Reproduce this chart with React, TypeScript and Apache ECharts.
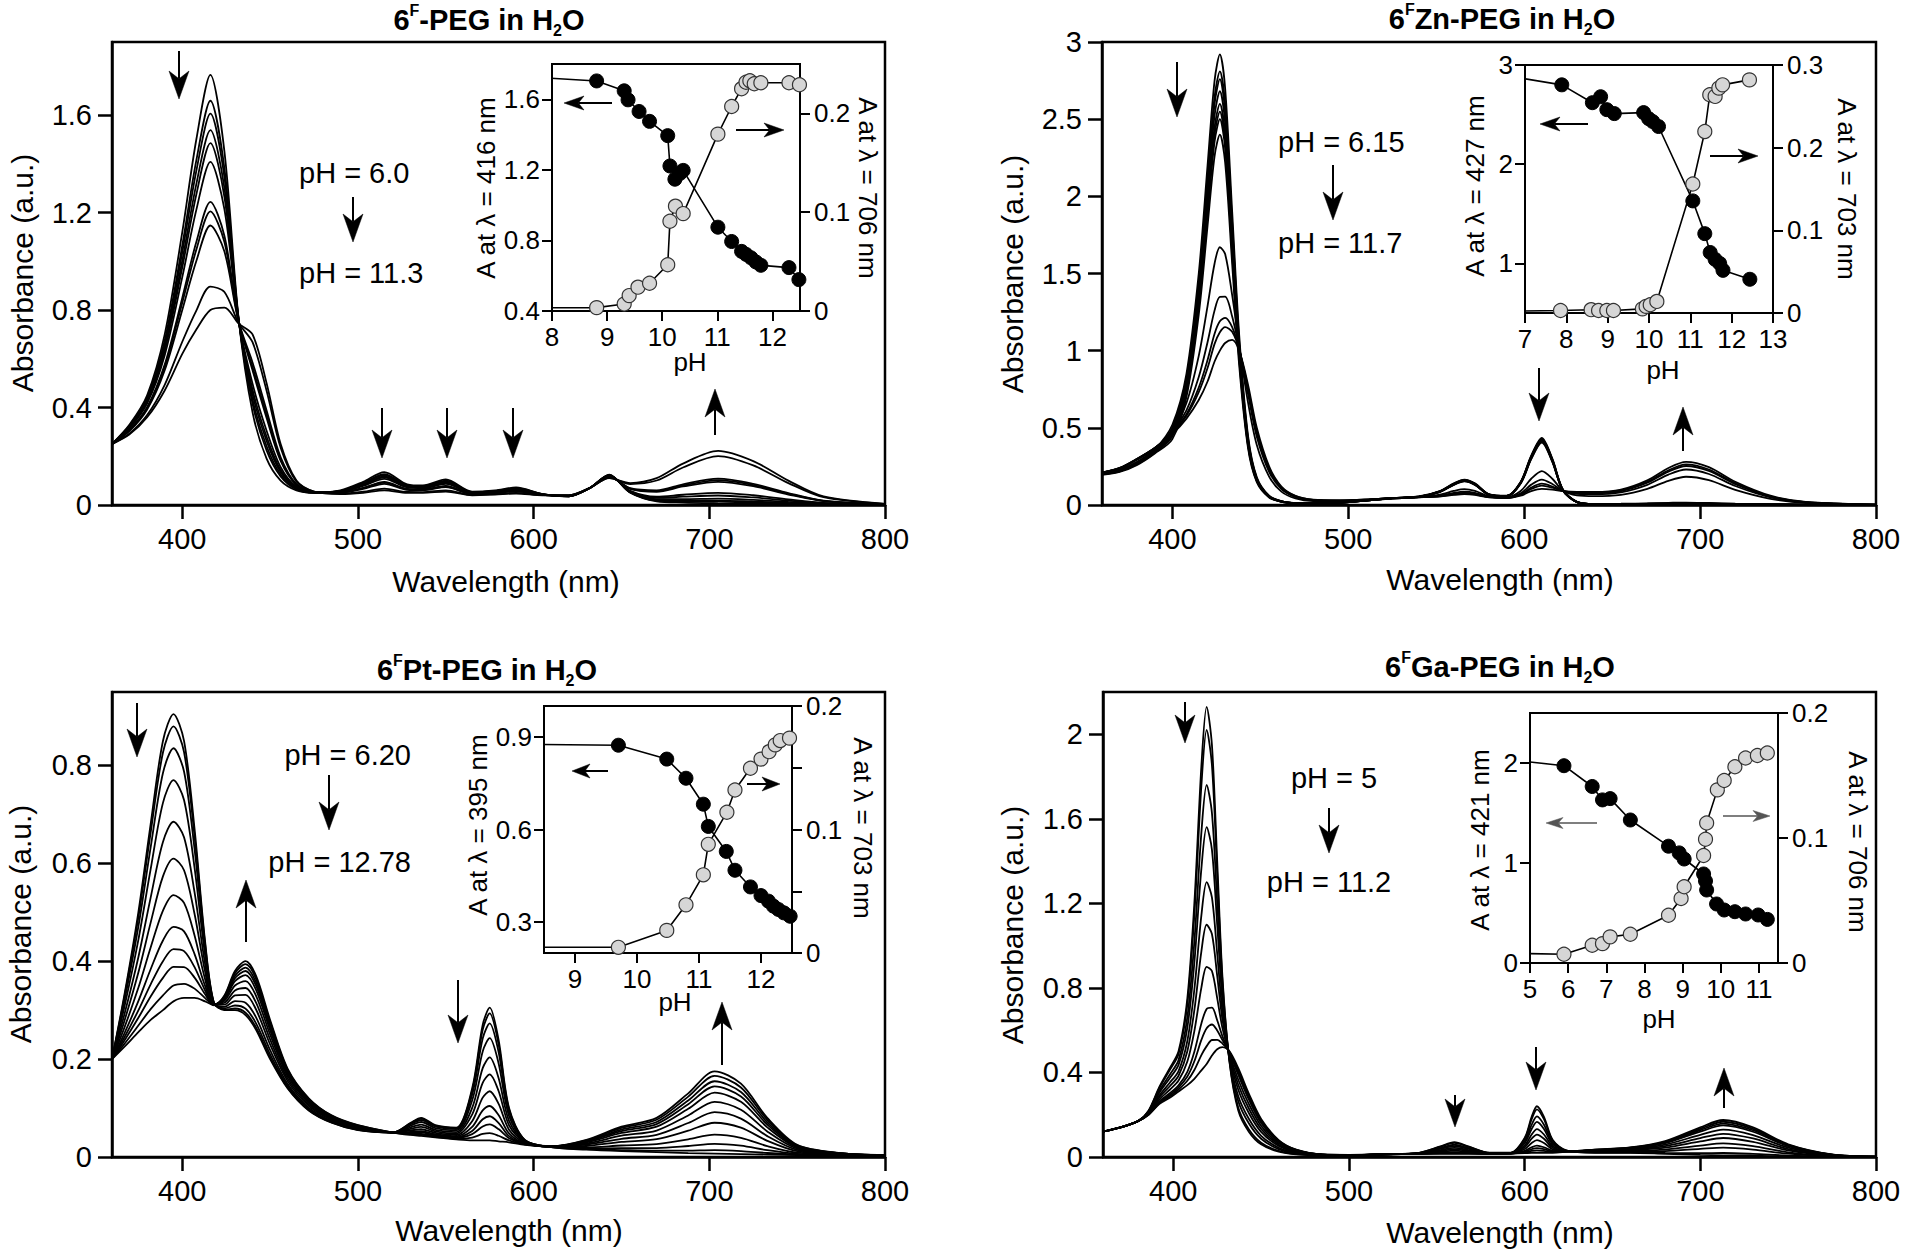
import React, { useEffect, useRef } from "react";
import * as echarts from "echarts";

const FONT = '"Liberation Sans", Arial, Helvetica, sans-serif';

// ---------------- Panel 1 : 6F-PEG ----------------
const W1 = [360,370,380,390,400,408,416,424,432,440,448,456,465,475,490,503,515,528,537,550,565,578,590,605,620,632,643,655,670,685,705,725,745,765,800];
const P1_S01 = [0.25,0.33,0.45,0.70,1.12,1.50,1.765,1.45,0.77,0.38,0.19,0.10,0.06,0.05,0.06,0.095,0.135,0.085,0.08,0.105,0.055,0.06,0.072,0.045,0.035,0.07,0.125,0.05,0.015,0.01,0.007,0.005,0.004,0.003,0.001];
const P1_S02 = [0.25,0.326,0.440,0.675,1.065,1.414,1.659,1.380,0.767,0.415,0.224,0.117,0.064,0.05,0.058,0.090,0.127,0.081,0.077,0.100,0.053,0.058,0.069,0.045,0.035,0.07,0.123,0.051,0.018,0.015,0.0135,0.010,0.007,0.004,0.001];
const P1_S03 = [0.25,0.323,0.435,0.662,1.037,1.371,1.606,1.344,0.766,0.433,0.241,0.125,0.067,0.051,0.0575,0.088,0.123,0.079,0.075,0.097,0.0525,0.057,0.068,0.044,0.036,0.07,0.1225,0.052,0.020,0.018,0.018,0.014,0.009,0.005,0.001];
const P1_S04 = [0.25,0.321,0.429,0.646,1.0025,1.317,1.538,1.300,0.764,0.455,0.263,0.135,0.069,0.051,0.0565,0.084,0.117,0.077,0.073,0.093,0.0515,0.056,0.066,0.044,0.036,0.07,0.1215,0.054,0.024,0.024,0.026,0.021,0.013,0.006,0.001];
const P1_S05 = [0.25,0.318,0.424,0.633,0.975,1.274,1.485,1.264,0.763,0.473,0.280,0.1435,0.072,0.0515,0.0556,0.082,0.113,0.075,0.071,0.0905,0.0506,0.055,0.065,0.0435,0.0365,0.07,0.1206,0.056,0.029,0.034,0.039,0.031,0.018,0.008,0.0016];
const P1_S06 = [0.25,0.315,0.417,0.615,0.935,1.211,1.408,1.213,0.761,0.498,0.305,0.1555,0.075,0.052,0.0544,0.078,0.107,0.072,0.069,0.0865,0.0494,0.0537,0.0627,0.043,0.037,0.07,0.1194,0.058,0.034,0.042,0.050,0.040,0.023,0.009,0.0018];
const P1_S07 = [0.25,0.308,0.401,0.576,0.85,1.079,1.244,1.104,0.7565,0.553,0.357,0.181,0.082,0.0527,0.052,0.0707,0.0945,0.066,0.0638,0.078,0.047,0.0508,0.0585,0.0423,0.0377,0.07,0.117,0.066,0.054,0.076,0.095,0.077,0.043,0.016,0.0026];
const P1_S08 = [0.25,0.307,0.398,0.567,0.83,1.048,1.205,1.079,0.7555,0.566,0.370,0.187,0.083,0.053,0.0513,0.069,0.0915,0.0647,0.0626,0.076,0.0463,0.050,0.0575,0.0421,0.0379,0.07,0.1163,0.0676,0.057,0.080,0.102,0.082,0.046,0.017,0.0028];
const P1_S09 = [0.25,0.304,0.392,0.553,0.80,1.001,1.147,1.040,0.754,0.585,0.388,0.196,0.0856,0.0532,0.0504,0.066,0.087,0.0626,0.0608,0.073,0.0454,0.049,0.056,0.0418,0.0382,0.07,0.1154,0.069,0.060,0.085,0.108,0.087,0.049,0.018,0.0029];
const P1_S10 = [0.25,0.294,0.369,0.493,0.67,0.798,0.8965,0.874,0.7475,0.668,0.469,0.235,0.096,0.0545,0.0465,0.0545,0.0675,0.0535,0.053,0.06,0.0415,0.0447,0.0495,0.0405,0.0395,0.07,0.1115,0.086,0.1005,0.154,0.2005,0.1625,0.090,0.032,0.0046];
const P1_S11 = [0.25,0.29,0.36,0.47,0.62,0.72,0.80,0.81,0.745,0.70,0.50,0.25,0.10,0.055,0.045,0.05,0.06,0.05,0.05,0.055,0.04,0.043,0.047,0.04,0.04,0.07,0.11,0.09,0.11,0.17,0.222,0.18,0.10,0.035,0.005];
const P1_CURVES = [P1_S01,P1_S02,P1_S03,P1_S04,P1_S05,P1_S06,P1_S07,P1_S08,P1_S09,P1_S10,P1_S11];

// ---------------- Panel 2 : 6FZn-PEG ----------------
const W2 = [360,370,380,390,400,408,415,420,424,427,430,434,438,443,448,455,462,470,480,495,510,525,540,552,560,566,572,580,590,598,604,610,616,622,630,640,655,670,682,692,705,720,740,760,800];
const P2_S01 = [0.21,0.23,0.28,0.36,0.52,0.85,1.50,2.20,2.75,2.92,2.70,1.90,1.10,0.45,0.18,0.06,0.025,0.012,0.01,0.015,0.03,0.045,0.055,0.09,0.14,0.165,0.14,0.07,0.06,0.15,0.32,0.435,0.30,0.10,0.02,0.005,0.003,0.003,0.003,0.003,0.003,0.002,0.002,0.001,0];
const P2_S02 = [0.207,0.227,0.276,0.355,0.50,0.818,1.443,2.116,2.646,2.81,2.597,1.828,1.058,0.433,0.173,0.058,0.024,0.012,0.01,0.015,0.03,0.044,0.054,0.089,0.138,0.1625,0.138,0.069,0.059,0.148,0.315,0.428,0.296,0.0985,0.02,0.005,0.003,0.003,0.003,0.003,0.003,0.002,0.002,0.001,0];
const P2_S03 = [0.205,0.225,0.274,0.352,0.491,0.803,1.418,2.079,2.599,2.759,2.552,1.796,1.040,0.425,0.170,0.057,0.024,0.012,0.01,0.015,0.029,0.044,0.054,0.088,0.137,0.161,0.137,0.068,0.059,0.147,0.313,0.425,0.293,0.098,0.02,0.005,0.004,0.004,0.004,0.004,0.004,0.003,0.002,0.001,0];
const P2_S04 = [0.203,0.222,0.271,0.348,0.477,0.780,1.377,2.020,2.525,2.681,2.479,1.744,1.010,0.413,0.165,0.055,0.023,0.012,0.01,0.0145,0.029,0.0435,0.053,0.087,0.135,0.1596,0.135,0.068,0.058,0.145,0.309,0.421,0.290,0.097,0.019,0.005,0.004,0.005,0.005,0.005,0.005,0.004,0.003,0.001,0];
const P2_S05 = [0.201,0.22,0.268,0.344,0.463,0.757,1.335,1.958,2.448,2.599,2.403,1.691,0.979,0.40,0.160,0.053,0.022,0.0115,0.0096,0.0143,0.0287,0.043,0.0526,0.086,0.134,0.158,0.134,0.067,0.057,0.143,0.306,0.416,0.287,0.096,0.019,0.005,0.005,0.006,0.007,0.007,0.006,0.005,0.003,0.001,0];
const P2_S06 = [0.199,0.218,0.266,0.342,0.454,0.742,1.31,1.921,2.401,2.549,2.357,1.659,0.960,0.393,0.157,0.052,0.022,0.0114,0.0095,0.0142,0.0285,0.0427,0.052,0.085,0.133,0.1566,0.133,0.066,0.057,0.142,0.304,0.413,0.285,0.095,0.019,0.006,0.006,0.008,0.009,0.010,0.008,0.006,0.004,0.002,0];
const P2_S07 = [0.198,0.217,0.264,0.339,0.445,0.728,1.284,1.883,2.354,2.50,2.311,1.626,0.942,0.385,0.154,0.051,0.021,0.0113,0.0094,0.0141,0.0283,0.0424,0.052,0.085,0.132,0.155,0.132,0.066,0.0565,0.141,0.301,0.41,0.283,0.094,0.019,0.006,0.007,0.009,0.011,0.012,0.010,0.007,0.004,0.002,0];
const P2_S08 = [0.195,0.214,0.26,0.334,0.427,0.699,1.233,1.808,2.261,2.40,2.219,1.562,0.904,0.37,0.148,0.049,0.021,0.011,0.0093,0.014,0.028,0.042,0.051,0.084,0.130,0.153,0.130,0.065,0.056,0.139,0.297,0.404,0.279,0.093,0.0186,0.007,0.008,0.011,0.014,0.016,0.013,0.009,0.005,0.002,0];
const P2_S09 = [0.21,0.2365,0.293,0.3665,0.481,0.661,0.966,1.289,1.565,1.67,1.626,1.36,1.035,0.665,0.388,0.184,0.087,0.043,0.026,0.025,0.033,0.045,0.052,0.067,0.091,0.103,0.091,0.057,0.050,0.091,0.17,0.22,0.17,0.0935,0.062,0.057,0.066,0.105,0.157,0.183,0.161,0.098,0.040,0.013,0.002];
const P2_S10 = [0.21,0.238,0.296,0.368,0.471,0.613,0.829,1.055,1.261,1.349,1.35,1.221,1.018,0.72,0.442,0.215,0.103,0.051,0.0305,0.027,0.034,0.045,0.051,0.061,0.079,0.087,0.079,0.054,0.048,0.076,0.132,0.165,0.136,0.092,0.073,0.07,0.082,0.131,0.197,0.23,0.201,0.123,0.0495,0.0165,0.0025];
const P2_S11 = [0.21,0.239,0.298,0.369,0.466,0.589,0.761,0.939,1.11,1.19,1.213,1.152,1.01,0.747,0.468,0.231,0.111,0.055,0.0325,0.0285,0.0345,0.045,0.0505,0.0585,0.0724,0.079,0.0724,0.052,0.0465,0.069,0.113,0.138,0.12,0.091,0.0786,0.077,0.0904,0.1445,0.2165,0.2526,0.2211,0.1353,0.0543,0.018,0.0027];
const P2_S12 = [0.21,0.239,0.299,0.369,0.464,0.578,0.731,0.8875,1.044,1.12,1.153,1.122,1.006,0.759,0.48,0.238,0.114,0.057,0.0334,0.029,0.0347,0.045,0.0503,0.0572,0.0697,0.076,0.0697,0.051,0.046,0.0656,0.104,0.126,0.1125,0.0906,0.081,0.08,0.094,0.15,0.225,0.263,0.230,0.141,0.056,0.0188,0.0028];
const P2_S13 = [0.21,0.24,0.30,0.37,0.46,0.56,0.68,0.80,0.93,1.00,1.05,1.07,1.00,0.78,0.50,0.25,0.12,0.06,0.035,0.03,0.035,0.045,0.05,0.055,0.065,0.07,0.065,0.05,0.045,0.06,0.09,0.105,0.10,0.09,0.085,0.085,0.10,0.16,0.24,0.28,0.245,0.15,0.06,0.02,0.003];
const P2_CURVES = [P2_S01,P2_S02,P2_S03,P2_S04,P2_S05,P2_S06,P2_S07,P2_S08,P2_S09,P2_S10,P2_S11,P2_S12,P2_S13];

// ---------------- Panel 3 : 6FPt-PEG ----------------
const W3 = [360,367,375,382,389,395,401,407,413,418,424,430,436,442,450,460,472,485,500,520,530,536,544,556,565,571,575,580,586,595,610,630,650,670,688,703,718,733,750,775,800];
const P3_S01 = [0.20,0.33,0.50,0.68,0.85,0.905,0.85,0.67,0.44,0.315,0.30,0.30,0.29,0.26,0.20,0.14,0.095,0.07,0.055,0.05,0.07,0.08,0.065,0.06,0.14,0.27,0.305,0.24,0.10,0.035,0.02,0.015,0.012,0.01,0.008,0.007,0.006,0.005,0.004,0.003,0.002];
const P3_S02 = [0.20,0.3255,0.4895,0.6628,0.8263,0.8798,0.8274,0.6552,0.4348,0.3148,0.3013,0.3034,0.2947,0.2647,0.2034,0.1417,0.0961,0.0706,0.0554,0.05,0.0689,0.0784,0.0639,0.059,0.1354,0.2599,0.2933,0.2311,0.097,0.0346,0.0201,0.0159,0.0142,0.013,0.0132,0.0142,0.0122,0.0082,0.0049,0.0032,0.0021];
const P3_S03 = [0.20,0.3175,0.4708,0.6324,0.7845,0.8351,0.7875,0.6289,0.4255,0.3144,0.3036,0.3095,0.3031,0.2731,0.2095,0.1448,0.098,0.0718,0.0562,0.05,0.067,0.0756,0.062,0.0571,0.1274,0.2419,0.2728,0.2152,0.0917,0.0338,0.0202,0.0174,0.018,0.0183,0.0225,0.027,0.0231,0.0139,0.0065,0.0036,0.0022];
const P3_S04 = [0.20,0.3058,0.4436,0.588,0.7235,0.77,0.7292,0.5906,0.4119,0.3138,0.3069,0.3184,0.3153,0.2853,0.2184,0.1492,0.1008,0.0735,0.0573,0.05,0.0642,0.0715,0.0592,0.0545,0.1156,0.2157,0.2427,0.1922,0.0839,0.0327,0.0205,0.0196,0.0235,0.0261,0.0361,0.0456,0.0391,0.0223,0.0088,0.0042,0.0025];
const P3_S05 = [0.20,0.2906,0.4081,0.53,0.6437,0.6849,0.6531,0.5406,0.3942,0.3131,0.3113,0.33,0.3313,0.3013,0.23,0.155,0.1044,0.0756,0.0588,0.05,0.0606,0.0661,0.0556,0.051,0.1002,0.1815,0.2034,0.162,0.0737,0.0313,0.0208,0.0225,0.0308,0.0363,0.0538,0.07,0.06,0.0331,0.0119,0.0049,0.0028];
const P3_S06 = [0.20,0.2772,0.3768,0.4788,0.5733,0.6097,0.5859,0.4965,0.3786,0.3125,0.3151,0.3402,0.3453,0.3153,0.2402,0.1601,0.1076,0.0775,0.06,0.05,0.0574,0.0614,0.0524,0.0479,0.0867,0.1513,0.1687,0.1354,0.0648,0.030,0.021,0.0251,0.0372,0.0452,0.0694,0.0915,0.0784,0.0427,0.0146,0.0055,0.003];
const P3_S07 = [0.20,0.2638,0.3456,0.428,0.5035,0.5352,0.5192,0.4526,0.3631,0.3118,0.3189,0.3504,0.3593,0.3293,0.2504,0.1652,0.1108,0.0795,0.0613,0.05,0.0542,0.0567,0.0492,0.0449,0.0732,0.1213,0.1343,0.109,0.0559,0.0287,0.0213,0.0276,0.0435,0.0541,0.0849,0.1128,0.0967,0.0523,0.0172,0.0062,0.0033];
const P3_S08 = [0.20,0.2522,0.3185,0.3836,0.4424,0.47,0.461,0.4144,0.3496,0.3113,0.3222,0.3593,0.3715,0.3415,0.2593,0.1696,0.1135,0.0811,0.0624,0.05,0.0515,0.0526,0.0465,0.0422,0.0615,0.0951,0.1042,0.0859,0.0481,0.0276,0.0215,0.0298,0.0491,0.0619,0.0984,0.1315,0.1127,0.0606,0.0196,0.0067,0.0035];
const P3_S09 = [0.20,0.2441,0.2996,0.3528,0.4001,0.4248,0.4205,0.3878,0.3402,0.3109,0.3245,0.3654,0.38,0.35,0.2654,0.1727,0.1155,0.0823,0.0632,0.05,0.0495,0.0497,0.0445,0.0404,0.0533,0.077,0.0833,0.0699,0.0427,0.0268,0.0216,0.0314,0.0529,0.0673,0.1078,0.1444,0.1238,0.0664,0.0212,0.0071,0.0036];
const P3_S10 = [0.20,0.2376,0.2844,0.328,0.366,0.3884,0.388,0.3664,0.3326,0.3106,0.3264,0.3704,0.3868,0.3568,0.2704,0.1752,0.117,0.0832,0.0638,0.05,0.048,0.0474,0.043,0.0389,0.0467,0.0623,0.0665,0.057,0.0384,0.0262,0.0218,0.0326,0.056,0.0716,0.1154,0.1548,0.1327,0.071,0.0225,0.0074,0.0038];
const P3_S11 = [0.20,0.2308,0.2685,0.302,0.3302,0.3503,0.3539,0.344,0.3247,0.3103,0.3284,0.3756,0.394,0.364,0.2756,0.1778,0.1186,0.0842,0.0645,0.05,0.0464,0.045,0.0414,0.0373,0.0398,0.047,0.0489,0.0434,0.0338,0.0256,0.0219,0.0339,0.0593,0.0762,0.1233,0.1658,0.1421,0.0759,0.0238,0.0077,0.0039];
const P3_S12 = [0.20,0.225,0.255,0.28,0.30,0.318,0.325,0.325,0.318,0.31,0.33,0.38,0.40,0.37,0.28,0.18,0.12,0.085,0.065,0.05,0.045,0.043,0.04,0.036,0.034,0.034,0.034,0.032,0.03,0.025,0.022,0.035,0.062,0.08,0.13,0.175,0.15,0.08,0.025,0.008,0.004];
const P3_CURVES = [P3_S01,P3_S02,P3_S03,P3_S04,P3_S05,P3_S06,P3_S07,P3_S08,P3_S09,P3_S10,P3_S11,P3_S12];

// ---------------- Panel 4 : 6FGa-PEG ----------------
const W4 = [360,370,380,386,392,398,403,408,412,416,419,422,425,428,432,437,443,450,460,470,485,500,520,540,552,560,568,580,592,600,604,607,611,616,624,640,660,680,700,713,730,750,775,800];
const P4_S01 = [0.12,0.14,0.17,0.22,0.33,0.42,0.50,0.75,1.20,1.85,2.13,1.95,1.40,0.85,0.45,0.22,0.12,0.06,0.025,0.012,0.008,0.008,0.012,0.02,0.05,0.07,0.05,0.02,0.02,0.09,0.19,0.24,0.19,0.08,0.03,0.02,0.02,0.015,0.01,0.008,0.006,0.003,0.001,0];
const P4_S02 = [0.12,0.14,0.17,0.2187,0.3248,0.4109,0.4877,0.7234,1.146,1.7564,2.0202,1.8545,1.3422,0.8286,0.4533,0.233,0.1317,0.0678,0.0286,0.0135,0.0083,0.0081,0.0121,0.0197,0.0477,0.0664,0.0477,0.0197,0.0197,0.0853,0.179,0.2257,0.179,0.0761,0.0297,0.021,0.0216,0.0189,0.0185,0.0189,0.0147,0.0067,0.0017,0.0001];
const P4_S03 = [0.12,0.14,0.17,0.2156,0.3125,0.3893,0.4584,0.6602,1.0182,1.5346,1.7599,1.6281,1.2051,0.7777,0.461,0.2638,0.1594,0.0863,0.037,0.017,0.0089,0.0084,0.0122,0.0189,0.0423,0.058,0.0423,0.0189,0.0191,0.0742,0.1528,0.1918,0.1528,0.0669,0.0289,0.0233,0.0255,0.0281,0.0385,0.0446,0.0353,0.0155,0.0034,0.0004];
const P4_S04 = [0.12,0.14,0.17,0.2133,0.303,0.3728,0.436,0.6118,0.9203,1.3647,1.5605,1.4546,1.1,0.7388,0.4669,0.2874,0.1807,0.1004,0.0435,0.0198,0.0093,0.0087,0.0123,0.0183,0.0382,0.0515,0.0382,0.0183,0.0187,0.0657,0.1327,0.1659,0.1327,0.0598,0.0283,0.0251,0.0284,0.0352,0.0538,0.0643,0.0512,0.0222,0.0047,0.0007];
const P4_S05 = [0.12,0.14,0.17,0.2102,0.2907,0.3513,0.4067,0.5487,0.7925,1.143,1.3002,1.2282,0.963,0.688,0.4746,0.3182,0.2084,0.1189,0.052,0.0233,0.01,0.009,0.0125,0.0175,0.0328,0.043,0.0328,0.0175,0.018,0.0546,0.1065,0.132,0.1065,0.0505,0.0275,0.0274,0.0323,0.0445,0.0738,0.09,0.0718,0.031,0.0064,0.001];
const P4_S06 = [0.12,0.14,0.17,0.2078,0.2813,0.3347,0.3843,0.5003,0.6945,0.973,1.0988,1.0548,0.858,0.649,0.4805,0.3418,0.2296,0.1331,0.0585,0.026,0.0104,0.0092,0.0126,0.017,0.0287,0.0365,0.0287,0.017,0.0176,0.0462,0.0865,0.106,0.0865,0.0435,0.027,0.0291,0.0352,0.0515,0.0892,0.1097,0.0876,0.0377,0.0077,0.0012];
const P4_S07 = [0.12,0.14,0.17,0.2054,0.2718,0.3181,0.3617,0.4515,0.5958,0.8017,0.8997,0.8798,0.752,0.6098,0.4864,0.3656,0.251,0.1474,0.065,0.0287,0.0109,0.0095,0.0127,0.0164,0.0245,0.03,0.0245,0.0164,0.0171,0.0376,0.0662,0.0798,0.0662,0.0363,0.0264,0.0309,0.0382,0.0587,0.1046,0.1296,0.1036,0.0445,0.009,0.0015];
const P4_S08 = [0.12,0.14,0.17,0.2031,0.2623,0.3016,0.3393,0.4031,0.4978,0.6318,0.7003,0.7064,0.647,0.5708,0.4923,0.3892,0.2723,0.1615,0.0715,0.0315,0.0114,0.0097,0.0128,0.0158,0.0204,0.0235,0.0204,0.0158,0.0166,0.0291,0.0462,0.0539,0.0462,0.0292,0.0258,0.0327,0.0412,0.0658,0.12,0.1493,0.1194,0.0512,0.0103,0.0017];
const P4_S09 = [0.12,0.14,0.17,0.202,0.258,0.294,0.329,0.381,0.453,0.554,0.609,0.627,0.599,0.553,0.495,0.40,0.282,0.168,0.0745,0.0327,0.0116,0.0098,0.0129,0.0155,0.0185,0.0205,0.0185,0.0155,0.0164,0.0252,0.037,0.042,0.037,0.026,0.0255,0.0335,0.0425,0.069,0.127,0.1583,0.1266,0.0543,0.0109,0.0018];
const P4_S10 = [0.12,0.14,0.17,0.201,0.254,0.287,0.3195,0.3605,0.4115,0.482,0.5245,0.5535,0.5545,0.5365,0.4975,0.41,0.291,0.174,0.0773,0.0339,0.0118,0.0099,0.013,0.0153,0.0168,0.0178,0.0168,0.0153,0.0162,0.0216,0.0285,0.031,0.0285,0.023,0.0253,0.0343,0.0438,0.072,0.1335,0.1667,0.1333,0.0572,0.0114,0.0019];
const P4_S11 = [0.12,0.14,0.17,0.20,0.25,0.28,0.31,0.34,0.37,0.41,0.44,0.48,0.51,0.52,0.50,0.42,0.30,0.18,0.08,0.035,0.012,0.01,0.013,0.015,0.015,0.015,0.015,0.015,0.016,0.018,0.02,0.02,0.02,0.02,0.025,0.035,0.045,0.075,0.14,0.175,0.14,0.06,0.012,0.002];
const P4_CURVES = [P4_S01,P4_S02,P4_S03,P4_S04,P4_S05,P4_S06,P4_S07,P4_S08,P4_S09,P4_S10,P4_S11];

// ---------------- Insets (first entry = starting pH, line only) ----------------
const I1_PH_B = [6.0,8.81,9.31,9.38,9.58,9.77,10.10,10.14,10.23,10.32,10.38,11.01,11.26,11.44,11.52,11.61,11.70,11.79,12.30,12.48];
const I1_A416 = [1.757,1.704,1.648,1.597,1.531,1.475,1.394,1.222,1.147,1.179,1.197,0.875,0.794,0.738,0.721,0.702,0.678,0.659,0.646,0.578];
const I1_PH_G = [6.0,8.81,9.31,9.40,9.56,9.77,10.10,10.14,10.24,10.38,11.01,11.26,11.44,11.52,11.59,11.67,11.79,12.30,12.49];
const I1_A706 = [0.003,0.0034,0.0071,0.0156,0.0241,0.0281,0.0468,0.0908,0.1061,0.0986,0.179,0.207,0.225,0.2315,0.233,0.230,0.231,0.231,0.229];

const I2_PH_B = [6.15,7.89,8.63,8.83,8.98,9.16,9.87,9.99,10.09,10.23,11.06,11.35,11.48,11.60,11.71,11.79,12.44];
const I2_A427 = [2.92,2.80,2.62,2.68,2.55,2.51,2.52,2.46,2.43,2.38,1.63,1.30,1.11,1.04,1.00,0.93,0.84];
const I2_PH_G = [6.15,7.86,8.60,8.78,8.98,9.14,9.84,9.93,10.03,10.19,11.06,11.35,11.47,11.60,11.69,11.78,12.43];
const I2_A703 = [0.002,0.003,0.004,0.003,0.003,0.003,0.005,0.008,0.010,0.014,0.156,0.2195,0.264,0.262,0.272,0.276,0.282];

const I3_PH_B = [6.2,9.70,10.48,10.79,11.07,11.15,11.44,11.58,11.83,12.00,12.12,12.20,12.28,12.37,12.47];
const I3_A395 = [0.88,0.873,0.828,0.766,0.682,0.610,0.529,0.468,0.414,0.386,0.368,0.352,0.341,0.330,0.319];
const I3_PH_G = [6.2,9.70,10.48,10.79,11.07,11.15,11.45,11.58,11.83,12.00,12.13,12.23,12.31,12.46];
const I3_A703 = [0.0046,0.0046,0.0183,0.039,0.0633,0.088,0.114,0.132,0.1496,0.157,0.163,0.1685,0.172,0.174];

const I4_PH_B = [5.0,5.89,6.63,6.90,7.10,7.63,8.63,8.91,9.04,9.55,9.60,9.63,9.89,10.09,10.37,10.65,10.98,11.22];
const I4_A421 = [2.01,1.973,1.765,1.631,1.644,1.43,1.168,1.101,1.04,0.89,0.82,0.73,0.59,0.53,0.513,0.49,0.48,0.436];
const I4_PH_G = [5.0,5.89,6.63,6.90,7.10,7.63,8.63,8.96,9.04,9.55,9.60,9.63,9.91,10.09,10.37,10.65,10.96,11.22];
const I4_A706 = [0.0075,0.007,0.0142,0.0155,0.0209,0.023,0.0382,0.0516,0.061,0.086,0.099,0.112,0.1385,0.146,0.157,0.164,0.166,0.168];

// ---------------- tick values ----------------
const MAIN_X_TICKS = [400,500,600,700,800];
const P1_Y_TICKS = [0,0.4,0.8,1.2,1.6];
const P2_Y_TICKS = [0,0.5,1,1.5,2,2.5,3];
const P3_Y_TICKS = [0,0.2,0.4,0.6,0.8];
const P4_Y_TICKS = [0,0.4,0.8,1.2,1.6,2];
const I1_X_TICKS = [8,9,10,11,12];
const I1_L_TICKS = [0.4,0.8,1.2,1.6];
const I1_R_TICKS = [0,0.1,0.2];
const I2_X_TICKS = [7,8,9,10,11,12,13];
const I2_L_TICKS = [1,2,3];
const I2_R_TICKS = [0,0.1,0.2,0.3];
const I3_X_TICKS = [9,10,11,12];
const I3_L_TICKS = [0.3,0.6,0.9];
const I3_R_TICKS = [0,0.05,0.1,0.15,0.2];
const I3_R_LABELS = [0,0.1,0.2];
const I4_X_TICKS = [5,6,7,8,9,10,11];
const I4_L_TICKS = [0,1,2];
const I4_R_TICKS = [0,0.1,0.2];

const fmt = (v: number) => String(+Number(v).toFixed(3));

const MAIN_TICK_FONT = 29;
const MAIN_NAME_FONT = 30;
const INSET_FONT = 26;
const NOTE_FONT = 29;

function buildOption() {
  const mainGrids = [
    { left: 112, top: 42, width: 773, height: 463 },
    { left: 1102, top: 42, width: 774, height: 463 },
    { left: 112, top: 692, width: 773, height: 465 },
    { left: 1103, top: 692, width: 773, height: 465 },
  ].map((g) => ({ ...g, show: true, borderColor: "#000", borderWidth: 2.5, backgroundColor: "transparent", containLabel: false }));
  const insetGrids = [
    { left: 552, top: 64, width: 248, height: 247 },
    { left: 1525, top: 65, width: 248, height: 248 },
    { left: 544, top: 706, width: 248, height: 247 },
    { left: 1530, top: 713, width: 248, height: 250 },
  ].map((g) => ({ ...g, show: true, borderColor: "#000", borderWidth: 2, backgroundColor: "#fff", containLabel: false }));

  const mainX = (gi: number) => ({
    type: "value", gridIndex: gi, min: 360, max: 800,
    axisLine: { show: true, onZero: false, lineStyle: { color: "#000", width: 2.5 } },
    axisTick: { show: true, inside: false, length: 14, lineStyle: { color: "#000", width: 2.5 }, customValues: MAIN_X_TICKS },
    axisLabel: { show: true, fontSize: MAIN_TICK_FONT, color: "#000", fontFamily: FONT, margin: 19, customValues: MAIN_X_TICKS, formatter: fmt },
    splitLine: { show: false },
  });
  const mainY = (gi: number, max: number, ticks: number[]) => ({
    type: "value", gridIndex: gi, min: 0, max,
    axisLine: { show: true, onZero: false, lineStyle: { color: "#000", width: 2.5 } },
    axisTick: { show: true, inside: false, length: 14, lineStyle: { color: "#000", width: 2.5 }, customValues: ticks },
    axisLabel: { show: true, fontSize: MAIN_TICK_FONT, color: "#000", fontFamily: FONT, margin: 20, customValues: ticks, formatter: fmt },
    splitLine: { show: false },
  });
  const insetX = (gi: number, min: number, max: number, ticks: number[]) => ({
    type: "value", gridIndex: gi, min, max,
    axisLine: { show: true, onZero: false, lineStyle: { color: "#000", width: 2 } },
    axisTick: { show: true, inside: false, length: 10, lineStyle: { color: "#000", width: 2 }, customValues: ticks },
    axisLabel: { show: true, fontSize: INSET_FONT, color: "#000", fontFamily: FONT, margin: 13, customValues: ticks, formatter: fmt },
    splitLine: { show: false },
  });
  const insetY = (gi: number, pos: string, min: number, max: number, ticks: number[], labels?: number[]) => ({
    type: "value", gridIndex: gi, position: pos, min, max,
    axisLine: { show: true, onZero: false, lineStyle: { color: "#000", width: 2 } },
    axisTick: { show: true, inside: false, length: 10, lineStyle: { color: "#000", width: 2 }, customValues: ticks },
    axisLabel: { show: true, fontSize: INSET_FONT, color: "#000", fontFamily: FONT, margin: pos === "left" ? 12 : 14, customValues: labels || ticks, formatter: fmt },
    splitLine: { show: false },
  });

  const xAxis = [
    mainX(0), mainX(1), mainX(2), mainX(3),
    insetX(4, 8, 12.5, I1_X_TICKS),
    insetX(5, 7, 13, I2_X_TICKS),
    insetX(6, 8.5, 12.5, I3_X_TICKS),
    insetX(7, 5, 11.5, I4_X_TICKS),
  ];
  const yAxis = [
    mainY(0, 1.9, P1_Y_TICKS), mainY(1, 3, P2_Y_TICKS), mainY(2, 0.95, P3_Y_TICKS), mainY(3, 2.2, P4_Y_TICKS),
    insetY(4, "left", 0.4, 1.8, I1_L_TICKS), insetY(4, "right", 0, 0.25, I1_R_TICKS),
    insetY(5, "left", 0.5, 3, I2_L_TICKS), insetY(5, "right", 0, 0.3, I2_R_TICKS),
    insetY(6, "left", 0.2, 1.0, I3_L_TICKS), insetY(6, "right", 0, 0.2, I3_R_TICKS, I3_R_LABELS),
    insetY(7, "left", 0, 2.5, I4_L_TICKS), insetY(7, "right", 0, 0.2, I4_R_TICKS),
  ];

  const series: any[] = [];
  const addMain = (W: number[], curves: number[][], idx: number) => {
    curves.forEach((c) => {
      series.push({
        type: "line", xAxisIndex: idx, yAxisIndex: idx,
        data: W.map((w, i) => [w, c[i]]),
        symbol: "none", showSymbol: false, smooth: 0.3, clip: true, silent: true, z: 2,
        lineStyle: { color: "#000", width: 1.8 },
      });
    });
  };
  addMain(W1, P1_CURVES, 0);
  addMain(W2, P2_CURVES, 1);
  addMain(W3, P3_CURVES, 2);
  addMain(W4, P4_CURVES, 3);

  const addInset = (k: number, ph: number[], vals: number[], gray: boolean) => {
    series.push({
      type: "line", xAxisIndex: 4 + k, yAxisIndex: 4 + 2 * k + (gray ? 1 : 0),
      data: ph.map((p, i) => (i === 0 ? { value: [p, vals[i]], symbol: "none" } : [p, vals[i]])),
      symbol: "circle", symbolSize: 14, showSymbol: true, clip: true, silent: true, z: gray ? 6 : 5,
      lineStyle: { color: "#000", width: 1.6 },
      itemStyle: gray ? { color: "#d6d6d6", borderColor: "#333", borderWidth: 1.2 } : { color: "#000", borderColor: "#000", borderWidth: 1 },
    });
  };
  addInset(0, I1_PH_B, I1_A416, false); addInset(0, I1_PH_G, I1_A706, true);
  addInset(1, I2_PH_B, I2_A427, false); addInset(1, I2_PH_G, I2_A703, true);
  addInset(2, I3_PH_B, I3_A395, false); addInset(2, I3_PH_G, I3_A703, true);
  addInset(3, I4_PH_B, I4_A421, false); addInset(3, I4_PH_G, I4_A706, true);

  // ---------- graphic annotations ----------
  const els: any[] = [];
  const arrow = (x1: number, y1: number, x2: number, y2: number, hl = 28, hw = 20, lw = 2, color = "#000") => {
    const dx = x2 - x1, dy = y2 - y1;
    const L = Math.hypot(dx, dy);
    const ux = dx / L, uy = dy / L, px = -uy, py = ux;
    const bx = x2 - ux * hl, by = y2 - uy * hl;
    const nx = x2 - ux * hl * 0.72, ny = y2 - uy * hl * 0.72;
    els.push({ type: "line", silent: true, z: 30, shape: { x1, y1, x2: nx, y2: ny }, style: { stroke: color, lineWidth: lw } });
    els.push({ type: "polygon", silent: true, z: 30, shape: { points: [[x2, y2], [bx + (px * hw) / 2, by + (py * hw) / 2], [nx, ny], [bx - (px * hw) / 2, by - (py * hw) / 2]] }, style: { fill: color, stroke: color, lineWidth: 0.5 } });
  };
  const txt = (text: string, x: number, y: number, size: number, align = "center", rot = 0) => {
    els.push({
      type: "text", x, y, rotation: rot, silent: true, z: 30,
      style: { text, fontSize: size, fontFamily: FONT, fill: "#000", align, verticalAlign: "middle", textAlign: align, textVerticalAlign: "middle" },
    });
  };
  const title = (metal: string, x: number, y: number) => {
    const base = { fontFamily: FONT, fontWeight: "bold", fill: "#000", color: "#000" };
    els.push({
      type: "text", x, y, silent: true, z: 30,
      style: {
        text: `{n|6}{s|F}{n|${metal}-PEG in H}{b|2}{n|O}`,
        fontSize: 29, fontFamily: FONT, fontWeight: "bold", fill: "#000",
        align: "center", verticalAlign: "middle", textAlign: "center", textVerticalAlign: "middle",
        rich: {
          n: { ...base, fontSize: 29, lineHeight: 36 },
          s: { ...base, fontSize: 16, lineHeight: 16, verticalAlign: "top" },
          b: { ...base, fontSize: 16, lineHeight: 16, verticalAlign: "bottom" },
        },
      },
    });
  };

  title("", 489, 20);
  title("Zn", 1502, 19);
  title("Pt", 487, 670);
  title("Ga", 1500, 667);

  const R90 = Math.PI / 2;
  // main axis names
  txt("Absorbance (a.u.)", 22, 273, MAIN_NAME_FONT, "center", R90);
  txt("Absorbance (a.u.)", 1012, 274, MAIN_NAME_FONT, "center", R90);
  txt("Absorbance (a.u.)", 20, 924, MAIN_NAME_FONT, "center", R90);
  txt("Absorbance (a.u.)", 1012, 925, MAIN_NAME_FONT, "center", R90);
  txt("Wavelength (nm)", 506, 581, MAIN_NAME_FONT);
  txt("Wavelength (nm)", 1500, 579, MAIN_NAME_FONT);
  txt("Wavelength (nm)", 509, 1230, MAIN_NAME_FONT);
  txt("Wavelength (nm)", 1500, 1232, MAIN_NAME_FONT);

  // inset axis names
  txt("A at λ = 416 nm", 486, 188, INSET_FONT, "center", R90);
  txt("A at λ = 706 nm", 868, 188, INSET_FONT, "center", -R90);
  txt("pH", 690, 362, INSET_FONT);
  txt("A at λ = 427 nm", 1475, 186, INSET_FONT, "center", R90);
  txt("A at λ = 703 nm", 1847, 189, INSET_FONT, "center", -R90);
  txt("pH", 1663, 370, INSET_FONT);
  txt("A at λ = 395 nm", 478, 825, INSET_FONT, "center", R90);
  txt("A at λ = 703 nm", 863, 828, INSET_FONT, "center", -R90);
  txt("pH", 675, 1002, INSET_FONT);
  txt("A at λ = 421 nm", 1480, 840, INSET_FONT, "center", R90);
  txt("A at λ = 706 nm", 1858, 842, INSET_FONT, "center", -R90);
  txt("pH", 1659, 1019, INSET_FONT);

  // pH range annotations
  txt("pH = 6.0", 299, 173, NOTE_FONT, "left");
  txt("pH = 11.3", 299, 273, NOTE_FONT, "left");
  txt("pH = 6.15", 1278, 142, NOTE_FONT, "left");
  txt("pH = 11.7", 1278, 243, NOTE_FONT, "left");
  txt("pH = 6.20", 411, 755, NOTE_FONT, "right");
  txt("pH = 12.78", 411, 862, NOTE_FONT, "right");
  txt("pH = 5", 1334, 778, NOTE_FONT, "center");
  txt("pH = 11.2", 1329, 882, NOTE_FONT, "center");

  // arrows panel 1
  arrow(179, 51, 179, 99);
  arrow(353, 197, 353, 242);
  arrow(382, 408, 382, 458);
  arrow(447, 408, 447, 458);
  arrow(513, 408, 513, 458);
  arrow(715, 435, 715, 389);
  arrow(612, 103, 564, 103, 20, 14, 2);
  arrow(736, 130, 784, 130, 20, 14, 2);
  // panel 2
  arrow(1177, 62, 1177, 117);
  arrow(1333, 165, 1333, 220);
  arrow(1539, 368, 1539, 421);
  arrow(1683, 451, 1683, 407);
  arrow(1588, 124, 1540, 124, 20, 14, 2);
  arrow(1710, 156, 1758, 156, 20, 14, 2);
  // panel 3
  arrow(137, 703, 137, 757);
  arrow(329, 775, 329, 830);
  arrow(246, 942, 246, 880);
  arrow(458, 980, 458, 1043);
  arrow(722, 1065, 722, 1002);
  arrow(608, 771, 572, 771, 18, 14, 2);
  arrow(747, 784, 780, 784, 18, 14, 2);
  // panel 4
  arrow(1185, 702, 1185, 743);
  arrow(1329, 808, 1329, 853);
  arrow(1455, 1095, 1455, 1127);
  arrow(1536, 1047, 1536, 1090);
  arrow(1724, 1108, 1724, 1068);
  arrow(1597, 823, 1546, 823, 17, 11, 1.3, "#555");
  arrow(1723, 816, 1770, 816, 17, 11, 1.3, "#555");

  return {
    animation: false,
    backgroundColor: "#fff",
    textStyle: { fontFamily: FONT, color: "#000" },
    grid: [...mainGrids, ...insetGrids],
    xAxis,
    yAxis,
    series,
    graphic: { elements: els },
  };
}

export default function App() {
  const ref = useRef<HTMLDivElement>(null);
  useEffect(() => {
    if (!ref.current) return;
    const chart = echarts.init(ref.current, null, { renderer: "svg" });
    chart.setOption(buildOption() as any);
    return () => chart.dispose();
  }, []);
  return (
    <div
      ref={ref}
      style={{ position: "fixed", left: 0, top: 0, width: 1905, height: 1251, background: "#fff" }}
    />
  );
}
